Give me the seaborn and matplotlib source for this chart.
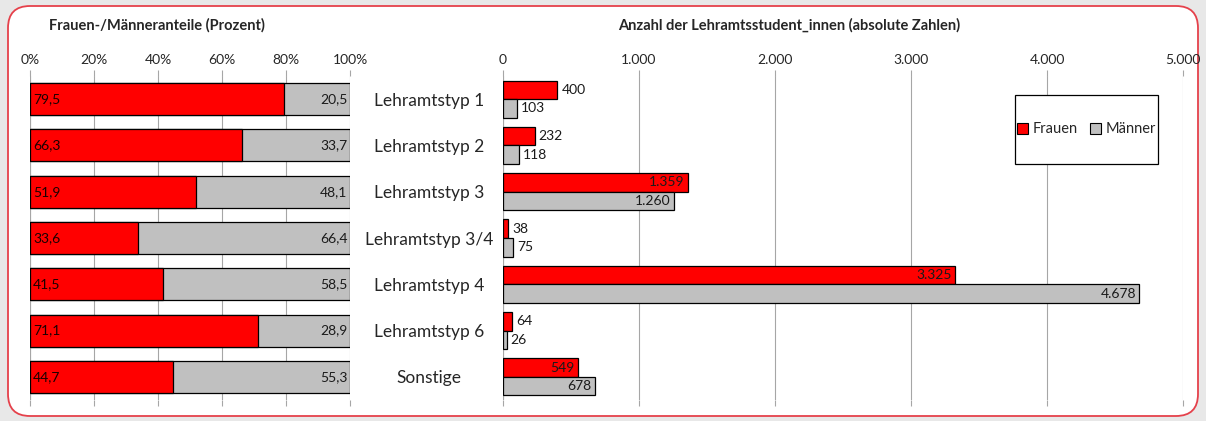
import matplotlib
matplotlib.use('Agg')
from matplotlib import pyplot as plt
from matplotlib.patches import FancyBboxPatch, Rectangle, Patch
import matplotlib.ticker as mticker
import pandas as pd
import seaborn as sns

# data
typen = ['Lehramtstyp 1', 'Lehramtstyp 2', 'Lehramtstyp 3', 'Lehramtstyp 3/4',
         'Lehramtstyp 4', 'Lehramtstyp 6', 'Sonstige']
anteil_frauen = [79.5, 66.3, 51.9, 33.6, 41.5, 71.1, 44.7]
anteil_maenner = [20.5, 33.7, 48.1, 66.4, 58.5, 28.9, 55.3]
anzahl_frauen = [400, 232, 1359, 38, 3325, 64, 549]
anzahl_maenner = [103, 118, 1260, 75, 4678, 26, 678]
pct_ticks = [0, 20, 40, 60, 80, 100]
abs_ticks = [0, 1000, 2000, 3000, 4000, 5000]

RED = '#ff0000'
GREY = '#c0c0c0'
GRID = '#a6a6a6'

sns.set_style('white')
plt.rcParams['font.family'] = ['Lato', 'DejaVu Sans']

W, H = 1206, 421
fig = plt.figure(figsize=(W / 100, H / 100), dpi=100)
fig.patch.set_facecolor('#e8e8e8')
# rounded white frame with red border (in inches)
fig.patches.append(FancyBboxPatch((0.08, 0.05), 11.9, 4.10,
                                  boxstyle='round,pad=0,rounding_size=0.22',
                                  transform=fig.dpi_scale_trans, facecolor='white',
                                  edgecolor='#e5414b', linewidth=1.3, zorder=-10))

ax1 = fig.add_axes([30 / W, 21 / H, 320 / W, 324 / H])
ax2 = fig.add_axes([503 / W, 21 / H, 680 / W, 324 / H])
for ax in (ax1, ax2):
    ax.set_facecolor('none')


def de_num(v):
    return f'{v:,}'.replace(',', '.')


# left: stacked percent bars
df_pct = pd.DataFrame({'Typ': typen, 'Frauen': anteil_frauen, 'Maenner': anteil_maenner})
df_pct['Gesamt'] = df_pct['Frauen'] + df_pct['Maenner']
sns.barplot(data=df_pct, y='Typ', x='Gesamt', orient='h', color=GREY, saturation=1,
            edgecolor='black', linewidth=0.9, width=0.69, ax=ax1, zorder=3)
sns.barplot(data=df_pct, y='Typ', x='Frauen', orient='h', color=RED, saturation=1,
            edgecolor='black', linewidth=0.9, width=0.69, ax=ax1, zorder=3)
for i, (f, m) in enumerate(zip(anteil_frauen, anteil_maenner)):
    ax1.text(1.0, i, f'{f:.1f}'.replace('.', ','), va='center', ha='left',
             fontsize=10, color='#1a0000', zorder=5)
    ax1.text(99.2, i, f'{m:.1f}'.replace('.', ','), va='center', ha='right',
             fontsize=10, color='#1a1a1a', zorder=5)
ax1.set_xlim(0, 100)
ax1.set_xticks(pct_ticks)
ax1.xaxis.set_major_formatter(mticker.FuncFormatter(lambda x, p: f'{int(x)}%'))
ax1.set_yticks([])

# right: grouped absolute bars
df_abs = pd.DataFrame({
    'Typ': typen * 2,
    'Anzahl': anzahl_frauen + anzahl_maenner,
    'Geschlecht': ['Frauen'] * len(typen) + ['Männer'] * len(typen),
})
sns.barplot(data=df_abs, y='Typ', x='Anzahl', hue='Geschlecht', orient='h',
            palette=[RED, GREY], saturation=1, edgecolor='black', linewidth=0.9,
            width=0.8, ax=ax2, zorder=3, legend=False)
for cont in ax2.containers:
    for bar in cont:
        v = int(round(bar.get_width()))
        y = bar.get_y() + bar.get_height() / 2
        if v >= 500:
            ax2.text(v - 25, y, de_num(v), va='center', ha='right', fontsize=10,
                     color='#1a1a1a', zorder=5)
        else:
            ax2.text(v + 30, y, de_num(v), va='center', ha='left', fontsize=10,
                     color='#1a1a1a', zorder=5)
ax2.set_xlim(0, 5000)
ax2.set_xticks(abs_ticks)
ax2.xaxis.set_major_formatter(mticker.FuncFormatter(lambda x, p: de_num(int(x))))
ax2.set_yticks(range(len(typen)))
ax2.set_yticklabels(typen, fontsize=12.5, ha='center')
ax2.tick_params(axis='y', length=0, pad=53)

for ax in (ax1, ax2):
    ax.set_ylim(len(typen) - 0.5, -0.5)
    ax.set_xlabel('')
    ax.set_ylabel('')
    ax.xaxis.tick_top()
    ax.tick_params(axis='x', which='both', top=True, bottom=True, direction='out',
                   length=4, width=0.8, color=GRID, labelsize=10, pad=3)
    ax.grid(axis='x', color=GRID, linewidth=0.8, zorder=0)
    for s in ax.spines.values():
        s.set_visible(False)
    ax.axvline(0, color=GRID, linewidth=0.8, zorder=1)

# legend box
handles = [Patch(facecolor=RED, edgecolor='black', linewidth=0.8, label='Frauen'),
           Patch(facecolor=GREY, edgecolor='black', linewidth=0.8, label='Männer')]
ax2.add_patch(Rectangle((0.753, 0.727), 0.21, 0.215, transform=ax2.transAxes,
                        facecolor='white', edgecolor='black', linewidth=0.9, zorder=6))
ax2.legend(handles=handles, loc='center', bbox_to_anchor=(0.858, 0.835), ncol=2,
           frameon=False, fontsize=10.5, handlelength=0.8, handleheight=0.8,
           handletextpad=0.3, columnspacing=0.8).set_zorder(7)

fig.text(157 / W, 1 - 25 / H, 'Frauen-/Männeranteile (Prozent)', ha='center',
         va='center', fontsize=10.5, fontweight='bold')
fig.text(789 / W, 1 - 25 / H, 'Anzahl der Lehramtsstudent_innen (absolute Zahlen)',
         ha='center', va='center', fontsize=10.5, fontweight='bold')

fig.savefig('out.png', dpi=100, facecolor=fig.get_facecolor())
